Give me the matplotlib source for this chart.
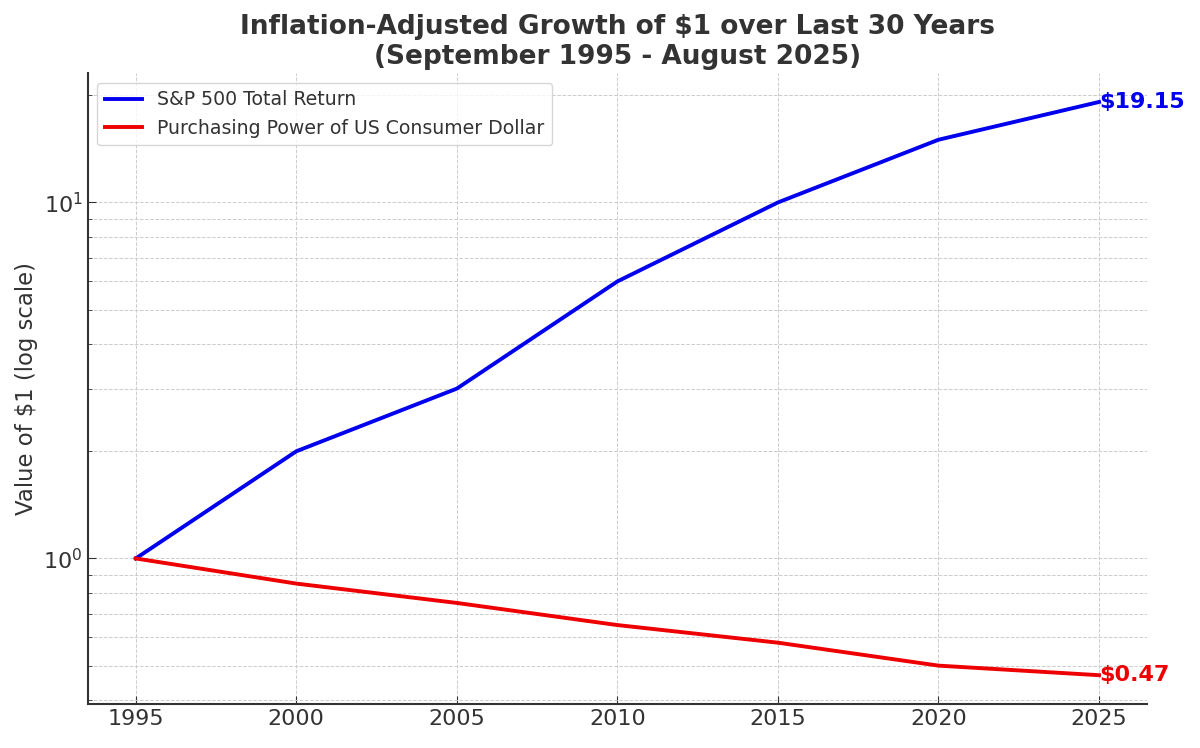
import numpy as np
import matplotlib.pyplot as plt

years = [1995, 2000, 2005, 2010, 2015, 2020, 2025]
sp500 = [1.0, 2.0, 3.0, 6.0, 10.0, 15.0, 19.15]
dollar = [1.0, 0.85, 0.75, 0.65, 0.58, 0.50, 0.47]

txt = '#333333'
plt.rcParams['font.family'] = ['DejaVu Sans']
plt.rcParams['text.color'] = txt
plt.rcParams['axes.labelcolor'] = txt
plt.rcParams['xtick.color'] = txt
plt.rcParams['ytick.color'] = txt

fig, ax = plt.subplots(figsize=(12, 7.48), dpi=100)
fig.subplots_adjust(left=0.073, right=0.956, bottom=0.059, top=0.902)

ax.plot(years, sp500, color='#0000ee', lw=2.8, label='S&P 500 Total Return')
ax.plot(years, dollar, color='#ee0000', lw=2.8, label='Purchasing Power of US Consumer Dollar')
ax.set_yscale('log')

# etiquetas finales
ax.text(years[-1], sp500[-1], '\\$%.2f' % sp500[-1], color='#0000ee',
        fontsize=16, fontweight='bold', ha='left', va='center')
ax.text(years[-1], dollar[-1], '\\$%.2f' % dollar[-1], color='#ee0000',
        fontsize=16, fontweight='bold', ha='left', va='center')

ax.set_title('Inflation-Adjusted Growth of $1 over Last 30 Years\n(September 1995 - August 2025)',
             fontsize=19, fontweight='bold', color=txt, pad=7)
ax.set_ylabel('Value of $1 (log scale)', fontsize=16.4)
ax.set_xticks(years)
ax.tick_params(axis='both', which='both', direction='in', labelsize=16)
ax.tick_params(axis='both', which='major', length=6)
ax.tick_params(axis='y', which='minor', length=3)

ax.grid(True, which='both', linestyle='--', color='#cccccc', linewidth=0.7)
ax.spines['top'].set_visible(False)
ax.spines['right'].set_visible(False)
ax.spines['left'].set_color(txt)
ax.spines['bottom'].set_color(txt)
ax.spines['left'].set_linewidth(1.5)
ax.spines['bottom'].set_linewidth(1.5)

leg = ax.legend(loc='upper left', fontsize=13.6, frameon=True)
leg.get_frame().set_edgecolor('#cccccc')

fig.savefig('out.png')
